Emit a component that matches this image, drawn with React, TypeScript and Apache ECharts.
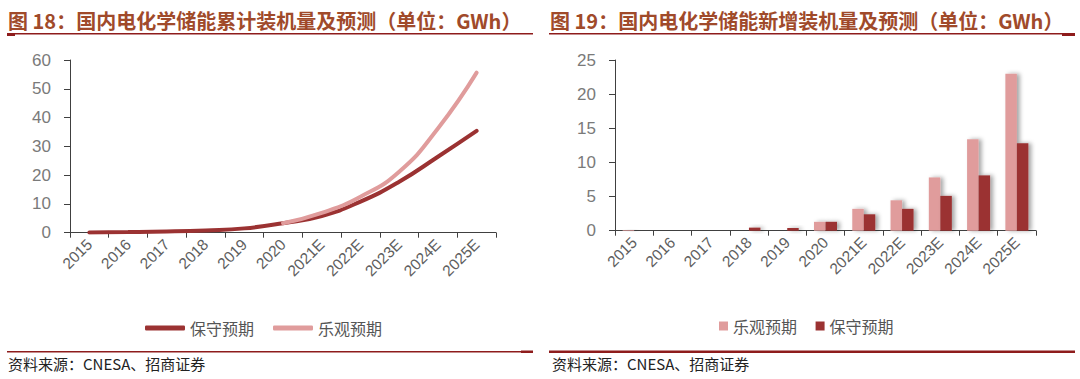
import React, { useEffect, useRef } from "react";
import * as echarts from "echarts";

const years = ["2015", "2016", "2017", "2018", "2019", "2020", "2021E", "2022E", "2023E", "2024E", "2025E"];
// Fig 18 cumulative (GWh)
const cumConservative = [0.1, 0.2, 0.4, 0.8, 1.5, 3.3, 5.8, 10.8, 17.7, 26.4, 35.4];
const cumOptimistic = [null, null, null, null, null, 3.3, 6.9, 12.5, 21.2, 36.2, 55.6];
// Fig 19 new additions (GWh)
const newOptimistic = [0.1, 0, 0, 0, 0, 1.3, 3.2, 4.45, 7.8, 13.4, 23.0];
const newConservative = [0, 0, 0, 0.45, 0.4, 1.3, 2.4, 3.2, 5.1, 8.1, 12.8];

const title18 = "图 18：国内电化学储能累计装机量及预测（单位：GWh）";
const title19 = "图 19：国内电化学储能新增装机量及预测（单位：GWh）";
const sourceText = "资料来源：CNESA、招商证券";
const nameCons = "保守预期";
const nameOpt = "乐观预期";

const DARK = "#9B3232";
const LIGHT = "#E09C9C";
const TITLE_C = "#A04A2A";
const RULE_C = "#8E1C1C";
const AXIS_C = "#404040";
const LABEL_C = "#5f5f5f";
const FONT = "Arial, 'Liberation Sans', 'Noto Sans CJK SC', sans-serif";
const CJK = "'Noto Sans CJK SC', sans-serif";

export default function App() {
  const ref = useRef<HTMLDivElement>(null);
  useEffect(() => {
    const chart = echarts.init(ref.current!, null, { renderer: "svg" });
    const xAxisBase = (gi: number) => ({
      type: "category",
      gridIndex: gi,
      data: years,
      boundaryGap: true,
      axisLine: { lineStyle: { color: AXIS_C, width: 1 } },
      axisTick: { show: true, length: 5, lineStyle: { color: AXIS_C } },
      axisLabel: { rotate: 45, margin: 9, fontSize: 15.5, color: LABEL_C, fontFamily: FONT, interval: 0 },
    });
    const yAxisBase = (gi: number, max: number, interval: number) => ({
      type: "value",
      gridIndex: gi,
      min: 0,
      max,
      interval,
      axisLine: { show: true, lineStyle: { color: AXIS_C, width: 1 } },
      axisTick: { show: true, length: 6, lineStyle: { color: AXIS_C } },
      splitLine: { show: false },
      axisLabel: { margin: 19, fontSize: 17, color: "#7a7a7a", fontFamily: FONT },
    });
    chart.setOption({
      animation: false,
      backgroundColor: "#ffffff",
      grid: [
        { left: 70, right: 584, top: 60, bottom: 146.3 },
        { left: 615, right: 44, top: 60, bottom: 148.3 },
      ],
      xAxis: [xAxisBase(0), xAxisBase(1)],
      yAxis: [yAxisBase(0, 60, 10), yAxisBase(1, 25, 5)],
      legend: [
        {
          data: [nameCons, nameOpt].map((n) => ({ name: n, icon: "roundRect" })),
          left: 140,
          top: 315,
          itemWidth: 40,
          itemHeight: 5,
          itemGap: 19,
          textStyle: { fontSize: 16, color: "#555", fontFamily: CJK },
          selectedMode: false,
        },
        {
          data: [nameOpt + " ", nameCons + " "].map((n) => ({ name: n, icon: "rect" })),
          left: 714,
          top: 313,
          itemWidth: 9,
          itemHeight: 9,
          itemGap: 15,
          textStyle: { fontSize: 16, color: "#555", fontFamily: CJK },
          selectedMode: false,
        },
      ],
      series: [
        {
          name: nameCons,
          type: "line",
          xAxisIndex: 0,
          yAxisIndex: 0,
          data: cumConservative,
          smooth: 0.5,
          showSymbol: false,
          lineStyle: { color: DARK, width: 4, cap: "round" },
          itemStyle: { color: DARK },
        },
        {
          name: nameOpt,
          type: "line",
          xAxisIndex: 0,
          yAxisIndex: 0,
          data: cumOptimistic,
          smooth: 0.5,
          showSymbol: false,
          lineStyle: { color: LIGHT, width: 4, cap: "round" },
          itemStyle: { color: LIGHT },
        },
        {
          name: nameOpt + " ",
          type: "bar",
          xAxisIndex: 1,
          yAxisIndex: 1,
          data: newOptimistic,
          barWidth: 11.5,
          barGap: "0%",
          itemStyle: { color: LIGHT, shadowColor: "rgba(0,0,0,0.35)", shadowBlur: 4, shadowOffsetX: 3, shadowOffsetY: 0 },
        },
        {
          name: nameCons + " ",
          type: "bar",
          xAxisIndex: 1,
          yAxisIndex: 1,
          data: newConservative,
          barWidth: 11.5,
          barGap: "0%",
          itemStyle: { color: DARK, shadowColor: "rgba(0,0,0,0.35)", shadowBlur: 4, shadowOffsetX: 3, shadowOffsetY: 0 },
        },
      ],
      graphic: [
        { type: "text", left: 8, top: 10, style: { text: title18, fontSize: 20, fontWeight: "bold", fill: TITLE_C, fontFamily: CJK } },
        { type: "text", left: 550, top: 10, style: { text: title19, fontSize: 20, fontWeight: "bold", fill: TITLE_C, fontFamily: CJK } },
        { type: "rect", shape: { x: 7, y: 33, width: 526, height: 1.5 }, style: { fill: RULE_C } },
        { type: "rect", shape: { x: 7, y: 33, width: 8, height: 3 }, style: { fill: RULE_C } },
        { type: "rect", shape: { x: 549, y: 33, width: 526, height: 1.5 }, style: { fill: RULE_C } },
        { type: "rect", shape: { x: 1062, y: 33, width: 13, height: 3 }, style: { fill: RULE_C } },
        { type: "rect", shape: { x: 7, y: 351, width: 526, height: 1.5 }, style: { fill: RULE_C } },
        { type: "rect", shape: { x: 521, y: 350.5, width: 12, height: 2.5 }, style: { fill: RULE_C } },
        { type: "rect", shape: { x: 549, y: 350.5, width: 526, height: 2.5 }, style: { fill: RULE_C } },
        { type: "text", left: 8, top: 356, style: { text: sourceText, fontSize: 15, fill: "#222", fontFamily: CJK } },
        { type: "text", left: 552, top: 356, style: { text: sourceText, fontSize: 15, fill: "#222", fontFamily: CJK } },
      ],
    });
    return () => chart.dispose();
  }, []);
  return <div ref={ref} style={{ position: "fixed", left: 0, top: 0, width: 1080, height: 379 }} />;
}
